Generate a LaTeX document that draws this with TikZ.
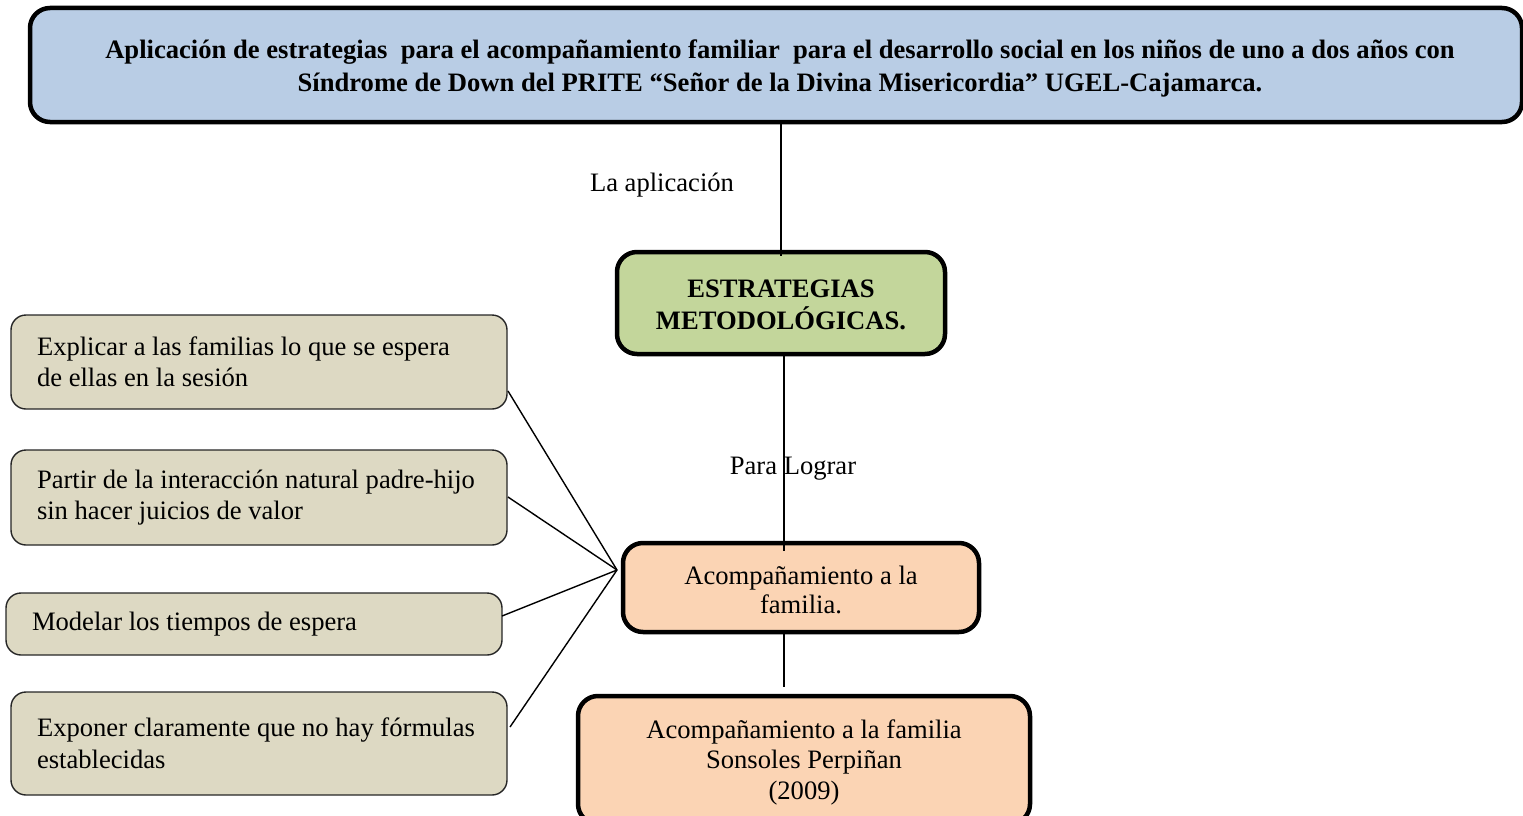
\documentclass[tikz,border=0pt]{standalone}
\usepackage{fontspec}
\setmainfont{Liberation Serif}
\begin{document}
\begin{tikzpicture}[x=1pt,y=-1pt,
  txt/.style={font=\fontsize{26.6}{31.5}\selectfont},
  bigbox/.style={draw=black,line width=4.5pt,rounded corners=20pt,inner sep=0pt,align=center,txt},
  smallbox/.style={draw=black!85,line width=1.4pt,rounded corners=15pt,fill=leftfill,inner sep=0pt,text width=444pt,align=flush left,txt},
  conn/.style={line width=1.4pt,draw=black}
]
\definecolor{topfill}{HTML}{B9CDE5}
\definecolor{estrfill}{HTML}{C3D69B}
\definecolor{acompfill}{HTML}{FBD4B4}
\definecolor{leftfill}{HTML}{DDD9C3}
\useasboundingbox (0,0) rectangle (1523,816);

\node[bigbox,fill=topfill,minimum width=1492pt,minimum height=114pt,font=\fontsize{26.6}{33}\selectfont\bfseries] (top) at (776,65) {};
\node[font=\fontsize{26.6}{33}\selectfont\bfseries,align=center,inner sep=0pt] (toptext) at (780,68)
  {Aplicación de estrategias\ \ para el acompañamiento familiar\ \ para el desarrollo social en los niños de uno a dos años con\\Síndrome de Down del PRITE “Señor de la Divina Misericordia” UGEL-Cajamarca.};

\node[bigbox,fill=estrfill,minimum width=328pt,minimum height=102pt] (estr) at (781,303) {};
\node[font=\fontsize{26.6}{32}\selectfont\bfseries,align=center,inner sep=0pt] (estrtext) at (781,305)
  {ESTRATEGIAS\\METODOLÓGICAS.};

\node[bigbox,fill=acompfill,minimum width=356pt,minimum height=89pt] (acomp) at (801,587.5) {};
\node[font=\fontsize{26.6}{29}\selectfont,align=center,inner sep=0pt] (acomptext) at (801,590)
  {Acompañamiento a la\\familia.};

\node[bigbox,fill=acompfill,minimum width=452pt,minimum height=128pt] (fam) at (804,760) {};
\node[font=\fontsize{26.6}{30.5}\selectfont,align=center,inner sep=0pt] (famtext) at (804,762)
  {Acompañamiento a la familia\\Sonsoles Perpiñan\\(2009)};

\node[smallbox,minimum width=496pt,minimum height=94pt] (b1) at (259,362)
  {Explicar a las familias lo que se espera\\de ellas en la sesión};
\node[smallbox,minimum width=496pt,minimum height=95pt] (b2) at (259,497.5)
  {Partir de la interacción natural padre-hijo\\sin hacer juicios de valor};
\node[smallbox,minimum width=496pt,minimum height=62pt] (b3) at (254,624)
  {Modelar los tiempos de espera};
\node[smallbox,minimum width=496pt,minimum height=103pt] (b4) at (259,743.5)
  {Exponer claramente que no hay fórmulas\\establecidas};

\node[txt,anchor=center] (lab1) at (662,185) {La aplicación};
\node[txt,anchor=center] (lab2) at (793,469) {Para Lograr};

\coordinate (hub) at (617,570);
\coordinate (e1) at (508,391);
\coordinate (e2) at (508,497);
\coordinate (e3) at (502,616);
\coordinate (e4) at (510,727);
\coordinate (c2) at ([xshift=3pt]estr.south |- acomp.north);
\coordinate (c3) at ([xshift=-17pt]acomp.south |- fam.north);

\draw[conn] (estr.north) ++(0,6) -- (estr.north |- top.south);
\draw[conn] ([xshift=3pt]estr.south) -- ([yshift=-10pt]c2);
\draw[conn] ([xshift=-17pt,yshift=4pt]acomp.south) -- ([yshift=7pt]c3);
\draw[conn] (e1) -- (hub);
\draw[conn] (e2) -- (hub);
\draw[conn] (e3) -- (hub);
\draw[conn] (e4) -- (hub);
\end{tikzpicture}
\end{document}
